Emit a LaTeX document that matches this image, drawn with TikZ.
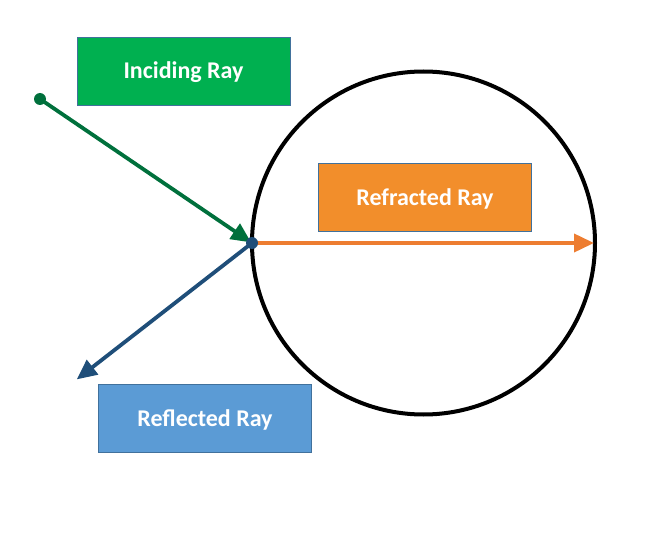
\documentclass[tikz,border=0pt]{standalone}
\usepackage{fontspec}
\setmainfont{Carlito}
\usetikzlibrary{arrows.meta}
\definecolor{boxgreen}{HTML}{00B050}
\definecolor{boxorange}{HTML}{F28E2B}
\definecolor{boxblue}{HTML}{5B9BD5}
\definecolor{boxedge}{HTML}{41719C}
\definecolor{raygreen}{HTML}{00703C}
\definecolor{rayblue}{HTML}{1F4E79}
\definecolor{rayorange}{HTML}{ED7D31}
\tikzset{
  label box/.style={draw=boxedge, line width=0.8pt, minimum width=213pt, minimum height=68pt,
    inner sep=0pt, text=white, text height=16pt, text depth=0pt,
    font=\fontsize{24pt}{28pt}\selectfont\bfseries},
  ray/.style={line width=3.8pt, -{Triangle[length=20pt,width=18pt]}, shorten >=1pt},
  dotnode/.style={circle, inner sep=0pt, minimum size=12pt},
}
\begin{document}
\begin{tikzpicture}[x=1pt,y=-1pt]
\useasboundingbox (0,0) rectangle (649,551);
\node[draw=black, line width=4pt, circle, minimum size=343pt, inner sep=0pt] (lens) at (423.5,243) {};
\node[label box, fill=boxgreen] (inc) at (183.5,71) {Inciding Ray};
\node[label box, fill=boxorange] (ref) at (425,197.5) {Refracted Ray};
\node[label box, fill=boxblue] (rfl) at (205,418.5) {Reflected Ray};
\node[dotnode, fill=raygreen] (start) at (40,99) {};
\coordinate (hit) at (252,243);
\coordinate (tipo) at (595,243);
\coordinate (tipb) at (76,380);
\draw[ray, draw=raygreen, fill=raygreen] (start.center) -- (hit);
\draw[ray, draw=rayorange, fill=rayorange] (hit) -- (tipo);
\draw[ray, draw=rayblue, fill=rayblue] (hit) -- (tipb);
\node[dotnode, fill=rayblue] (hitdot) at (hit) {};
\end{tikzpicture}
\end{document}
